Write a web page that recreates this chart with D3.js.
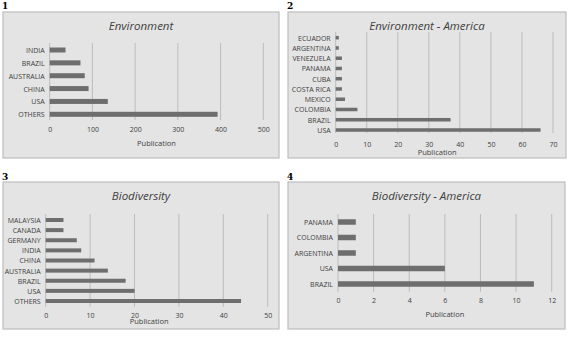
<!DOCTYPE html>
<html>
<head>
<meta charset="utf-8">
<script src="https://cdn.jsdelivr.net/npm/d3@7"></script>
<style>
  body { margin: 0; background: #fff; }
  text { font-family: "Open Sans", "Liberation Sans", sans-serif; fill: #404040; }
</style>
</head>
<body>
<svg id="chart" width="568" height="351"></svg>
<script>
// panel 1
const envCountries = ['INDIA', 'BRAZIL', 'AUSTRALIA', 'CHINA', 'USA', 'OTHERS']
const envValues = [37, 72, 82, 91, 136, 393]
const envTicks = [0, 100, 200, 300, 400, 500]

// panel 2
const envAmCountries = ['ECUADOR', 'ARGENTINA', 'VENEZUELA', 'PANAMA', 'CUBA', 'COSTA RICA', 'MEXICO', 'COLOMBIA', 'BRAZIL', 'USA']
const envAmValues = [1, 1, 2, 2, 2, 2, 3, 7, 37, 66]
const envAmTicks = [0, 10, 20, 30, 40, 50, 60, 70]

// panel 3
const bioCountries = ['MALAYSIA', 'CANADA', 'GERMANY', 'INDIA', 'CHINA', 'AUSTRALIA', 'BRAZIL', 'USA', 'OTHERS']
const bioValues = [4, 4, 7, 8, 11, 14, 18, 20, 44]
const bioTicks = [0, 10, 20, 30, 40, 50]

// panel 4
const bioAmCountries = ['PANAMA', 'COLOMBIA', 'ARGENTINA', 'USA', 'BRAZIL']
const bioAmValues = [1, 1, 1, 6, 11]
const bioAmTicks = [0, 2, 4, 6, 8, 10, 12]

const panels = [
  { num: '1', title: 'Environment', cats: envCountries, vals: envValues, ticks: envTicks,
    box: [3, 12, 276, 146], numY: 9, x0: 49.7, x1: 263.3, gTop: 43, gBot: 120, catTop: 50, catBot: 114.3,
    barH: 5, tickY: 133, labelY: 146 },
  { num: '2', title: 'Environment  - America', cats: envAmCountries, vals: envAmValues, ticks: envAmTicks,
    box: [288, 12, 278, 146], numY: 9, x0: 335.7, x1: 553, gTop: 32, gBot: 133, catTop: 37.7, catBot: 130,
    barH: 3.5, tickY: 148, labelY: 155 },
  { num: '3', title: 'Biodiversity', cats: bioCountries, vals: bioValues, ticks: bioTicks,
    box: [3, 182, 276, 147], numY: 180, x0: 45.7, x1: 267.7, gTop: 214, gBot: 306.7, catTop: 220, catBot: 301,
    barH: 4, tickY: 319, labelY: 324 },
  { num: '4', title: 'Biodiversity -  America', cats: bioAmCountries, vals: bioAmValues, ticks: bioAmTicks,
    box: [288, 182, 277, 147], numY: 180, x0: 338, x1: 551.7, gTop: 214, gBot: 291.7, catTop: 222, catBot: 284,
    barH: 5.5, tickY: 304, labelY: 317 }
]

const svg = d3.select('#chart')

panels.forEach(p => {
  const g = svg.append('g')

  g.append('text')
    .attr('x', p.box[0] - 1)
    .attr('y', p.numY)
    .style('font-family', '"DejaVu Serif", serif')
    .style('font-weight', 'bold')
    .style('font-size', '9px')
    .style('fill', '#000')
    .text(p.num)

  g.append('rect')
    .attr('x', p.box[0]).attr('y', p.box[1])
    .attr('width', p.box[2]).attr('height', p.box[3])
    .attr('fill', '#e4e4e4')
    .attr('stroke', '#bdbdbd')
    .attr('stroke-width', 1.2)

  g.append('text')
    .attr('x', p.box[0] + p.box[2] / 2)
    .attr('y', p.box[1] + 18)
    .attr('text-anchor', 'middle')
    .style('font-style', 'italic')
    .style('font-size', '11.5px')
    .text(p.title)

  const x = d3.scaleLinear()
    .domain([p.ticks[0], p.ticks[p.ticks.length - 1]])
    .range([p.x0, p.x1])

  const step = (p.catBot - p.catTop) / (p.cats.length - 1)
  const y = d3.scalePoint()
    .domain(p.cats)
    .range([p.catTop, p.catBot])

  // gridlines
  g.append('g')
    .selectAll('line')
    .data(p.ticks.slice(1))
    .join('line')
    .attr('x1', d => x(d)).attr('x2', d => x(d))
    .attr('y1', p.gTop).attr('y2', p.gBot)
    .attr('stroke', '#bcbcbc')
    .attr('stroke-width', 1)

  // baseline
  g.append('line')
    .attr('x1', x(0)).attr('x2', x(0))
    .attr('y1', p.gTop).attr('y2', p.gBot)
    .attr('stroke', '#bcbcbc')

  // bars
  g.append('g')
    .selectAll('rect')
    .data(p.cats.map((c, i) => ({ cat: c, val: p.vals[i] })))
    .join('rect')
    .attr('x', x(0))
    .attr('y', d => y(d.cat) - p.barH / 2)
    .attr('width', d => x(d.val) - x(0))
    .attr('height', p.barH)
    .attr('fill', '#6e6e6e')

  // category axis
  const yAxis = d3.axisLeft(y).tickSize(0).tickPadding(5)
  const ya = g.append('g')
    .attr('transform', `translate(${x(0)},0)`)
    .call(yAxis)
  ya.select('.domain').remove()
  ya.selectAll('text')
    .style('font-size', '7px')
    .style('fill', '#404040')
    .attr('dy', '0.35em')

  // value axis
  const xAxis = d3.axisBottom(x).tickValues(p.ticks).tickSize(0).tickPadding(0)
  const xa = g.append('g')
    .attr('transform', `translate(0,${p.tickY - 6})`)
    .call(xAxis)
  xa.select('.domain').remove()
  xa.selectAll('text')
    .style('font-size', '7px')
    .style('fill', '#404040')
    .attr('dy', '0.71em')

  g.append('text')
    .attr('x', p.num === '2' || p.num === '3' ? x(p.ticks[p.ticks.length - 1] * 0.43) + 8 : (p.x0 + p.x1) / 2)
    .attr('y', p.labelY)
    .attr('text-anchor', 'middle')
    .style('font-size', '7.5px')
    .text('Publication')
})
</script>
</body>
</html>
